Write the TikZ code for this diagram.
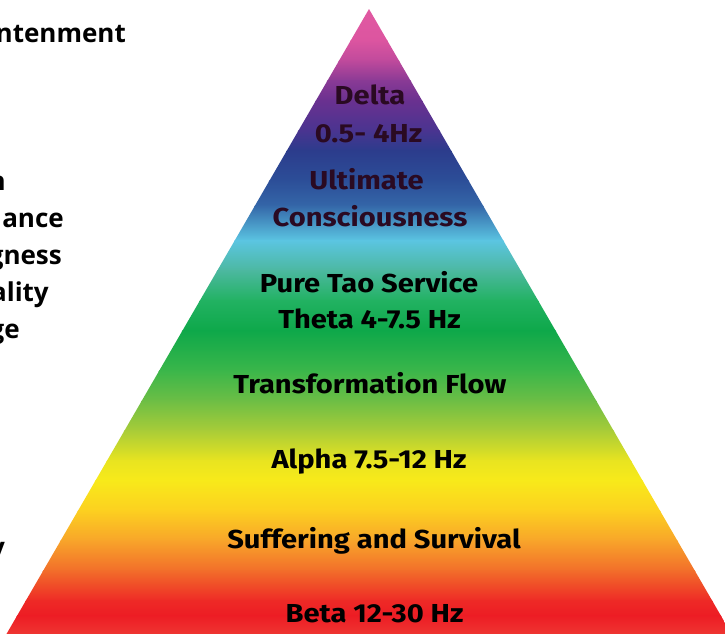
\documentclass[tikz,border=0pt]{standalone}
\usepackage{fontspec}
\setmainfont{Open Sans}
\newfontfamily\trifont[FakeStretch=1.12]{Fira Sans}
\definecolor{g0}{HTML}{E25AA2}
\definecolor{g1}{HTML}{DC55A0}
\definecolor{g2}{HTML}{C04A9C}
\definecolor{g3}{HTML}{8A3A95}
\definecolor{g4}{HTML}{6A3190}
\definecolor{g5}{HTML}{4A3490}
\definecolor{g6}{HTML}{2C3C8C}
\definecolor{g7}{HTML}{2C4E98}
\definecolor{g8}{HTML}{3466A8}
\definecolor{g9}{HTML}{5BC5E2}
\definecolor{g10}{HTML}{4CB8A0}
\definecolor{g11}{HTML}{22B262}
\definecolor{g12}{HTML}{0EA84A}
\definecolor{g13}{HTML}{3AB64A}
\definecolor{g14}{HTML}{6CBE45}
\definecolor{g15}{HTML}{A8CC38}
\definecolor{g16}{HTML}{E8E420}
\definecolor{g17}{HTML}{F8EA1A}
\definecolor{g18}{HTML}{FCD020}
\definecolor{g19}{HTML}{F8A52A}
\definecolor{g20}{HTML}{F26E2A}
\definecolor{g21}{HTML}{EE2A26}
\definecolor{g22}{HTML}{ED1C24}
\definecolor{g23}{HTML}{EF3E36}
\definecolor{darktxt}{HTML}{2A0A22}
\tikzset{
  tri/.style={font=\trifont\bfseries\fontsize{26}{30}\selectfont, inner sep=0pt, anchor=base},
  side/.style={font=\bfseries\fontsize{26}{30}\selectfont, inner sep=0pt, anchor=base east}
}
\begin{document}
\begin{tikzpicture}[x=1pt,y=-1pt]
\useasboundingbox (0,0) rectangle (725,633);
\clip (0,0) rectangle (725,633);
\begin{scope}
\clip (369,9) -- (735,640) -- (3,640) -- cycle;
\foreach \ya/\ca/\yb/\cb in {0/g0/40/g1, 40/g1/60/g2, 60/g2/80/g3, 80/g3/100/g4, 100/g4/130/g5, 130/g5/150/g6, 150/g6/180/g7, 180/g7/205/g8, 205/g8/240/g9, 240/g9/270/g10, 270/g10/300/g11, 300/g11/330/g12, 330/g12/370/g13, 370/g13/400/g14, 400/g14/430/g15, 430/g15/460/g16, 460/g16/480/g17, 480/g17/510/g18, 510/g18/540/g19, 540/g19/570/g20, 570/g20/600/g21, 600/g21/615/g22, 615/g22/640/g23}
  \shade[top color=\ca, bottom color=\cb] (0,\ya) rectangle (725,\yb+1);
\end{scope}
% triangle labels
\node[tri, text=darktxt] (delta) at (370,104) {Delta};
\node[tri, text=darktxt] (deltahz) at (368.5,142) {0.5- 4Hz};
\node[tri, text=darktxt] (ult) at (366.5,189) {Ultimate};
\node[tri, text=darktxt] (cons) at (370,226) {Consciousness};
\node[tri] (pure) at (369,292) {Pure Tao Service};
\node[tri] (theta) at (369.5,328) {Theta 4-7.5 Hz};
\node[tri] (trans) at (370,393) {Transformation Flow};
\node[tri] (alpha) at (369,468) {Alpha 7.5-12 Hz};
\node[tri] (suff) at (374,548) {Suffering and Survival};
\node[tri] (beta) at (374.5,622) {Beta 12-30 Hz};
% left side (cut-off) labels
\node[side] (l1) at (126,42) {ntenment};
\node[side] (l2) at (6,190) {n};
\node[side] (l3) at (64,227) {ance};
\node[side] (l4) at (62,264) {gness};
\node[side] (l5) at (49,301) {ality};
\node[side] (l6) at (20,338) {ge};
\node[side] (l7) at (5,556) {y};
\end{tikzpicture}
\end{document}
